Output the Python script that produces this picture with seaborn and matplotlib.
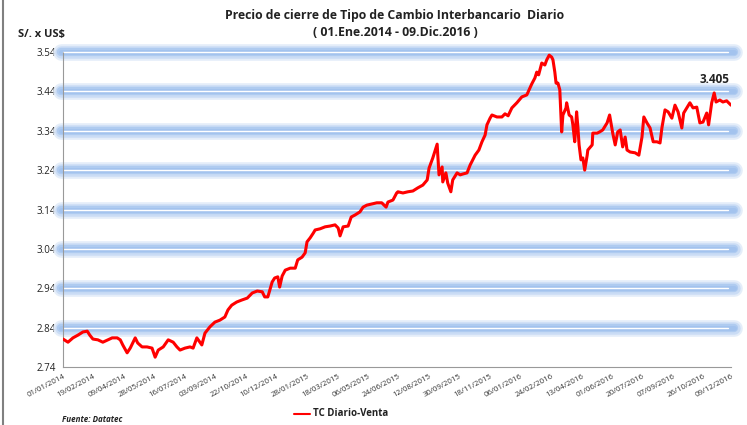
import matplotlib
matplotlib.use('Agg')
import matplotlib.pyplot as plt
import matplotlib.transforms as mtransforms
import matplotlib.lines as mlines
import seaborn as sns
import pandas as pd

# dias desde 01/01/2014 y tipo de cambio (S/. x US$)
dias = [0, 8, 16, 24, 32, 39, 43, 48, 56, 64, 72, 79, 87, 92, 96, 103, 108, 116, 120, 127,
        135, 143, 148, 153, 161, 169, 177, 183, 188, 196, 204, 209, 215, 223, 228, 236, 244, 252, 260, 265,
        271, 279, 287, 296, 304, 312, 320, 324, 329, 336, 340, 345, 348, 352, 357, 365, 373, 377, 384, 389,
        392, 397, 402, 405, 413, 421, 429, 437, 442, 445, 450, 458, 463, 469, 477, 482, 488, 496, 504, 512,
        519, 522, 530, 536, 538, 546, 554, 562, 570, 578, 585, 588, 594, 601, 602, 604, 609, 610, 615, 618,
        623, 626, 633, 638, 642, 649, 654, 662, 668, 673, 678, 681, 686, 689, 697, 705, 710, 715, 721, 729,
        737, 745, 753, 758, 761, 764, 769, 774, 777, 781, 785, 787, 790, 792, 795, 798, 801, 803, 808, 809,
        813, 817, 819, 822, 825, 827, 829, 832, 835, 838, 842, 843, 850, 851, 858, 862, 867, 874, 878, 883,
        887, 891, 895, 899, 903, 906, 911, 919, 925, 930, 933, 938, 943, 948, 954, 959, 962, 967, 972, 978,
        983, 988, 991, 994, 997, 1002, 1007, 1012, 1018, 1023, 1028, 1034, 1037, 1042, 1046, 1049, 1055, 1060, 1066, 1073]
tc_venta = [2.811, 2.803, 2.814, 2.821, 2.829, 2.831, 2.821, 2.811, 2.809, 2.803, 2.809, 2.814, 2.814, 2.809, 2.796, 2.776, 2.788, 2.814, 2.801, 2.791,
            2.791, 2.788, 2.765, 2.783, 2.791, 2.809, 2.803, 2.791, 2.783, 2.788, 2.791, 2.788, 2.814, 2.796, 2.826, 2.842, 2.854, 2.859, 2.867, 2.885,
            2.897, 2.905, 2.910, 2.915, 2.928, 2.933, 2.931, 2.918, 2.918, 2.956, 2.966, 2.969, 2.943, 2.971, 2.986, 2.991, 2.991, 3.012, 3.019, 3.030,
            3.058, 3.068, 3.080, 3.088, 3.091, 3.096, 3.098, 3.101, 3.093, 3.073, 3.096, 3.098, 3.121, 3.126, 3.134, 3.146, 3.151, 3.154, 3.157, 3.157,
            3.146, 3.159, 3.164, 3.182, 3.185, 3.182, 3.185, 3.187, 3.195, 3.202, 3.215, 3.245, 3.271, 3.306, 3.278, 3.228, 3.248, 3.210, 3.233, 3.207,
            3.185, 3.215, 3.233, 3.228, 3.230, 3.233, 3.253, 3.278, 3.291, 3.312, 3.329, 3.355, 3.372, 3.380, 3.375, 3.375, 3.383, 3.378, 3.398, 3.411,
            3.426, 3.431, 3.459, 3.474, 3.489, 3.482, 3.512, 3.507, 3.520, 3.532, 3.527, 3.520, 3.489, 3.461, 3.461, 3.444, 3.337, 3.380, 3.398, 3.411,
            3.380, 3.375, 3.355, 3.312, 3.388, 3.350, 3.304, 3.266, 3.271, 3.240, 3.278, 3.291, 3.304, 3.334, 3.334, 3.337, 3.342, 3.360, 3.380, 3.334,
            3.304, 3.337, 3.342, 3.299, 3.324, 3.291, 3.286, 3.284, 3.278, 3.324, 3.375, 3.360, 3.347, 3.312, 3.312, 3.309, 3.347, 3.393, 3.388, 3.372,
            3.405, 3.388, 3.367, 3.347, 3.385, 3.398, 3.411, 3.398, 3.400, 3.360, 3.362, 3.385, 3.355, 3.411, 3.436, 3.413, 3.418, 3.413, 3.416, 3.405]

y_ticks = [2.74, 2.84, 2.94, 3.04, 3.14, 3.24, 3.34, 3.44, 3.54]
x_ticks = ['01/01/2014', '19/02/2014', '09/04/2014', '28/05/2014', '16/07/2014', '03/09/2014',
           '22/10/2014', '10/12/2014', '28/01/2015', '18/03/2015', '06/05/2015', '24/06/2015',
           '12/08/2015', '30/09/2015', '18/11/2015', '06/01/2016', '24/02/2016', '13/04/2016',
           '01/06/2016', '20/07/2016', '07/09/2016', '26/10/2016', '09/12/2016']

df = pd.DataFrame({'Fecha': pd.Timestamp('2014-01-01') + pd.to_timedelta(dias, unit='D'),
                   'TC': tc_venta})

sns.set_style('white')
plt.rcParams['font.family'] = ['Open Sans', 'DejaVu Sans']

fig = plt.figure(figsize=(7.47, 4.25), dpi=100)
ax = fig.add_axes([63 / 747, 1 - 367 / 425, (731 - 63) / 747, (367 - 52) / 425])

# bandas azules de la grilla
trans = mtransforms.blended_transform_factory(ax.transAxes, ax.transData)
for yv in y_ticks[1:]:
    for lw, col, a in [(12, '#e2ecf9', 0.9), (9, '#c8dbf5', 0.9), (6, '#afcbf0', 1.0), (3.5, '#a3c3ee', 1.0)]:
        ax.plot([-0.003, 1.005], [yv, yv], color=col, lw=lw, alpha=a, transform=trans,
                solid_capstyle='round', clip_on=False, zorder=1)
    ax.plot([0, 0.995], [yv, yv], color='white', lw=1.0, transform=trans,
            clip_on=False, zorder=1.5)

sns.lineplot(data=df, x='Fecha', y='TC', color='#ff0000', lw=2.2, ax=ax, zorder=3, legend=False)

ax.set_ylim(2.74, 3.54)
ax.set_xlim(pd.Timestamp('2014-01-01'), pd.Timestamp('2016-12-09'))
ax.set_yticks(y_ticks)
ax.set_yticklabels([f'{v:.2f}' for v in y_ticks], fontsize=7, color='#222222')
xt = pd.to_datetime(x_ticks, format='%d/%m/%Y')
ax.set_xticks(xt)
ax.set_xticklabels(x_ticks, rotation=28, ha='right', rotation_mode='anchor', fontsize=5.7, color='#333333')
ax.tick_params(axis='both', length=3, width=0.6, color='#999999', direction='out', pad=2)
ax.tick_params(axis='x', pad=1)
ax.set_xlabel('')
ax.set_ylabel('')

for s in ['top', 'right']:
    ax.spines[s].set_visible(False)
ax.spines['left'].set_linestyle((0, (1, 1)))
ax.spines['left'].set_color('#999999')
ax.spines['left'].set_linewidth(0.8)
ax.spines['bottom'].set_color('#999999')
ax.spines['bottom'].set_linewidth(0.8)

# ultimo valor
ax.annotate(f'{tc_venta[-1]:.3f}', xy=(df['Fecha'].iloc[-1], tc_venta[-1]), xytext=(-12, 16),
            textcoords='offset points', ha='center', fontsize=8.5, fontweight='bold', color='#222222')

fig.text(395 / 747, 1 - 15 / 425, 'Precio de cierre de Tipo de Cambio Interbancario  Diario',
         ha='center', va='center', fontsize=8.8, fontweight='bold', color='#222222')
fig.text(395 / 747, 1 - 33 / 425, '( 01.Ene.2014 - 09.Dic.2016 )',
         ha='center', va='center', fontsize=8.8, fontweight='bold', color='#222222')
fig.text(18 / 747, 1 - 35 / 425, 'S/. x US$', ha='left', va='center', fontsize=8,
         fontweight='bold', color='#222222')
fig.text(62 / 747, 1 - 420 / 425, 'Fuente: Datatec', ha='left', va='center', fontsize=5.8,
         fontweight='bold', style='italic', color='#222222')

# leyenda
fig.add_artist(mlines.Line2D([294 / 747, 310 / 747], [1 - 414 / 425, 1 - 414 / 425],
                             color='#ff0000', lw=1.5))
fig.text(313 / 747, 1 - 414 / 425, 'TC Diario-Venta', ha='left', va='center', fontsize=7,
         fontweight='bold', color='#222222')

# borde izquierdo
fig.add_artist(mlines.Line2D([3 / 747, 3 / 747], [0, 1], color='#808080', lw=1.5))

fig.savefig('out.png', dpi=100)
